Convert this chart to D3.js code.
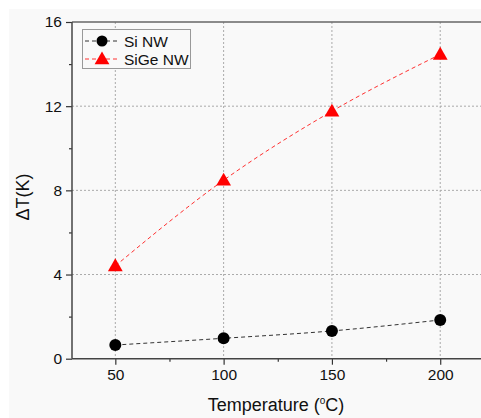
<!DOCTYPE html>
<html><head><meta charset="utf-8">
<script src="https://cdn.jsdelivr.net/npm/d3@7"></script>
<style>body{margin:0;background:#fff}svg{display:block}text{font-family:"Liberation Sans",Arial,sans-serif}</style>
</head><body><svg id="c" width="481" height="418"></svg>
<script>
const temps = [50, 100, 150, 200];
const siNW = [0.65, 0.97, 1.32, 1.84];
const siGeNW = [4.41, 8.48, 11.76, 14.46];
const xTicks = [50, 100, 150, 200];
const xMinor = [75, 125, 175];
const yTicks = [0, 4, 8, 12, 16];
const yMinor = [2, 6, 10, 14];
const seriesNames = ["Si NW", "SiGe NW"];

const FF = "'Liberation Sans', Arial, sans-serif";
const svg = d3.select("#c");
const L = 72, T = 22, B = 358.7;
const x = d3.scaleLinear().domain([30, 220]).range([L, L + 190 * 108.3 / 50]);
const y = d3.scaleLinear().domain([0, 16]).range([B, T]);

svg.append("rect").attr("x", 9).attr("y", 9).attr("width", 472).attr("height", 409).attr("fill", "#f9f9f9");

// grid
const g = svg.append("g");
g.selectAll(".gx").data(xTicks).join("line").attr("x1", d => x(d)).attr("x2", d => x(d)).attr("y1", T).attr("y2", B)
  .attr("stroke", "#aaa").attr("stroke-width", 1).attr("stroke-dasharray", "2,2");
g.selectAll(".gy").data(yTicks.filter(d => d > 0 && d < 16)).join("line").attr("y1", d => y(d)).attr("y2", d => y(d)).attr("x1", L).attr("x2", 481)
  .attr("stroke", "#aaa").attr("stroke-width", 1).attr("stroke-dasharray", "2,2");

// axes
const xAxis = d3.axisBottom(x).tickValues(xTicks).tickSize(6).tickPadding(4);
const xg = svg.append("g").attr("transform", `translate(0,${B})`).call(xAxis).attr("font-family", FF);
xg.select(".domain").remove();
xg.selectAll(".tick line").attr("stroke", "#333").attr("stroke-width", 1.2);
xg.selectAll(".tick text").attr("font-size", 15.5).attr("fill", "#111");
const xm = d3.axisBottom(x).tickValues(xMinor).tickSize(3).tickFormat("");
const xmg = svg.append("g").attr("transform", `translate(0,${B})`).call(xm);
xmg.select(".domain").remove();
xmg.selectAll(".tick line").attr("stroke", "#333").attr("stroke-width", 1.2);

const yAxis = d3.axisLeft(y).tickValues(yTicks).tickSize(6).tickPadding(4);
const yg = svg.append("g").attr("transform", `translate(${L},0)`).call(yAxis).attr("font-family", FF);
yg.select(".domain").remove();
yg.selectAll(".tick line").attr("stroke", "#333").attr("stroke-width", 1.2);
yg.selectAll(".tick text").attr("font-size", 15.5).attr("fill", "#111");
const ym = d3.axisLeft(y).tickValues(yMinor).tickSize(3).tickFormat("");
const ymg = svg.append("g").attr("transform", `translate(${L},0)`).call(ym);
ymg.select(".domain").remove();
ymg.selectAll(".tick line").attr("stroke", "#333").attr("stroke-width", 1.2);

svg.append("line").attr("x1", L).attr("x2", 481).attr("y1", B).attr("y2", B).attr("stroke", "#444").attr("stroke-width", 1.5);
svg.append("line").attr("x1", L).attr("x2", 481).attr("y1", T).attr("y2", T).attr("stroke", "#666").attr("stroke-width", 1.5);
svg.append("line").attr("x1", L).attr("x2", L).attr("y1", T).attr("y2", B).attr("stroke", "#444").attr("stroke-width", 1.5);

// lines
const line = d3.line().x(d => x(d[0])).y(d => y(d[1])).curve(d3.curveMonotoneX);
const siData = temps.map((t, i) => [t, siNW[i]]);
const sgData = temps.map((t, i) => [t, siGeNW[i]]);
svg.append("path").attr("d", line(siData)).attr("fill", "none").attr("stroke", "#333").attr("stroke-width", 1).attr("stroke-dasharray", "4,3");
svg.append("path").attr("d", line(sgData)).attr("fill", "none").attr("stroke", "#ff3030").attr("stroke-width", 1).attr("stroke-dasharray", "4,3");

const tri = d3.symbol().type(d3.symbolTriangle).size(95);
svg.selectAll(".si").data(siData).join("circle").attr("cx", d => x(d[0])).attr("cy", d => y(d[1])).attr("r", 6).attr("fill", "#000");
svg.selectAll(".sg").data(sgData).join("path").attr("d", tri).attr("transform", d => `translate(${x(d[0])},${y(d[1]) + 1})`).attr("fill", "#ff0000");

// legend
const lg = svg.append("g").attr("font-family", FF);
lg.append("rect").attr("x", 82.5).attr("y", 29.5).attr("width", 108).attr("height", 39).attr("fill", "#f9f9f9").attr("stroke", "#999").attr("stroke-width", 1);
const ly = [41, 59];
[["#333", "circle"], ["#ff3030", "tri"]].forEach((s, i) => {
  lg.append("line").attr("x1", 85).attr("x2", 119).attr("y1", ly[i]).attr("y2", ly[i]).attr("stroke", s[0]).attr("stroke-dasharray", "4,3");
  if (s[1] === "circle") lg.append("circle").attr("cx", 102).attr("cy", ly[i]).attr("r", 5.5).attr("fill", "#000");
  else lg.append("path").attr("d", tri).attr("transform", `translate(102,${ly[i] + 1})`).attr("fill", "#ff0000");
  lg.append("text").attr("x", 124).attr("y", ly[i] + 5.5).attr("font-size", 15.5).attr("fill", "#111").text(seriesNames[i]);
});

// axis titles
const xt = svg.append("text").attr("x", 276).attr("y", 411).attr("text-anchor", "middle").attr("font-size", 18).attr("fill", "#111").attr("font-family", FF);
xt.append("tspan").text("Temperature (");
xt.append("tspan").attr("dy", -7).attr("font-size", 10).text("o");
xt.append("tspan").attr("dy", 7).text("C)");
svg.append("text").attr("transform", "translate(29,197) rotate(-90)").attr("text-anchor", "middle").attr("font-size", 18).attr("fill", "#111").attr("font-family", FF).text("ΔT(K)");
</script></body></html>
